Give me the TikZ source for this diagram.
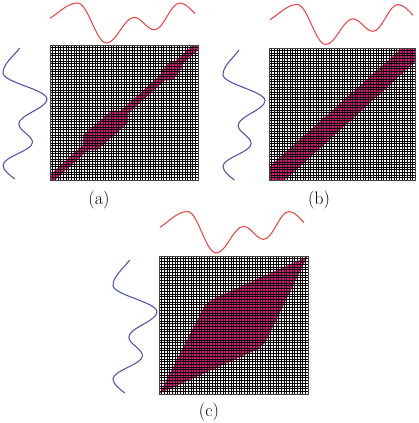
\documentclass[tikz,border=0pt]{standalone}
\usepackage{tikz}
\definecolor{bandpink}{RGB}{238,12,136}
\definecolor{wavered}{RGB}{236,70,66}
\definecolor{waveblue}{RGB}{72,82,172}
\tikzset{
  gridline/.style={black,line width=0.55pt},
  boxframe/.style={draw=black!75,line width=0.8pt},
  bandfill/.style={fill=bandpink},
  redwave/.style={wavered,line width=1.05pt},
  bluewave/.style={waveblue,line width=1.05pt},
  panellabel/.style={font=\fontsize{18}{20}\selectfont,inner sep=0pt}
}
% grid over box: x0,y0,x1,y1 in image pixels (y downward)
\newcommand\mygrid[4]{%
  \foreach \i in {0,...,56}{\draw[gridline] ({#1+(#3-#1)*\i/56},{-#2}) -- ({#1+(#3-#1)*\i/56},{-#4});}
  \foreach \j in {0,...,51}{\draw[gridline] ({#1},{-#2-(#4-#2)*\j/51}) -- ({#3},{-#2-(#4-#2)*\j/51});}
  \draw[boxframe] (#1,-#2) rectangle (#3,-#4);
}
\newcommand\wavepath{(0,0.38) .. controls (0.06,0.25) and (0.12,0) .. (0.19,0) .. controls (0.263,0) and (0.317,1) .. (0.39,1) .. controls (0.459,1) and (0.511,0.36) .. (0.58,0.36) .. controls (0.631,0.36) and (0.669,0.67) .. (0.72,0.67) .. controls (0.784,0.67) and (0.831,0) .. (0.895,0) .. controls (0.935,0) and (0.975,0.17) .. (1,0.27)}
\begin{document}
\begin{tikzpicture}[x=1pt,y=1pt]
\useasboundingbox (0,0) rectangle (418,-423);
% ---------- panel (a)
\fill[bandfill] (50,-180) -- (50,-175) -- (193,-45) -- (198,-45) -- (198,-50) -- (55,-180) -- cycle;
\fill[bandfill] (83,-135) -- (112,-110.5) -- (128,-110.5) -- (128,-123) -- (97,-150) -- (83,-150) -- cycle;
\fill[bandfill] (161,-71.5) -- (170,-61.7) -- (180,-61.7) -- (182.7,-66.7) -- (173.3,-80) -- (161,-80.7) -- cycle;
\mygrid{50}{45}{198}{180}
\begin{scope}[cm={145,0,0,-40,(50,-3)}]
  \draw[redwave] \wavepath;
\end{scope}
\begin{scope}[cm={0,-131,44,0,(3,-48)}]
  \draw[bluewave] \wavepath;
\end{scope}
\node[panellabel] (la) at (99,-200) {(a)};
% ---------- panel (b)
\fill[bandfill] (269,-180) -- (269,-167) -- (402,-48) -- (415,-48) -- (415,-62) -- (285,-180) -- cycle;
\mygrid{269}{48}{415}{180}
\begin{scope}[cm={143,0,0,-40,(270,-4.5)}]
  \draw[redwave] \wavepath;
\end{scope}
\begin{scope}[cm={0,-130,42,0,(223,-50)}]
  \draw[bluewave] \wavepath;
\end{scope}
\node[panellabel] (lb) at (319,-200) {(b)};
% ---------- panel (c)
\fill[bandfill] (159.5,-393.5) -- (205,-305) -- (212,-299.5) -- (307.5,-256.5) -- (265,-343) -- (258,-349) -- cycle;
\mygrid{159}{256}{308}{394}
\begin{scope}[cm={144,0,0,-41.5,(160,-211.5)}]
  \draw[redwave] \wavepath;
\end{scope}
\begin{scope}[cm={0,-133,44,0,(113,-260)}]
  \draw[bluewave] \wavepath;
\end{scope}
\node[panellabel] (lc) at (209,-412) {(c)};
\end{tikzpicture}
\end{document}
